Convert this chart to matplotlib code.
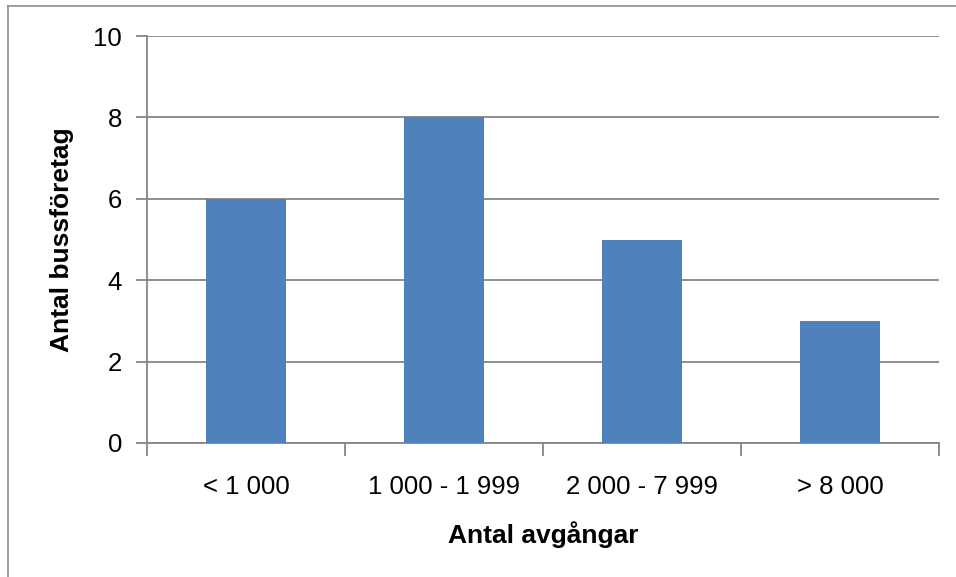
import matplotlib.pyplot as plt
from matplotlib.lines import Line2D

categories = ["< 1 000", "1 000 - 1 999", "2 000 - 7 999", "> 8 000"]
counts = [6, 8, 5, 3]
yticks = [0, 2, 4, 6, 8, 10]

plt.rcParams['font.family'] = ['Liberation Sans', 'DejaVu Sans']

fig = plt.figure(figsize=(9.56, 5.77), dpi=100)
ax = fig.add_axes([147/956, 1 - 443/577, (939-147)/956, (443-36)/577])

x = list(range(len(categories)))
ax.bar(x, counts, width=0.4, color='#4F81BD', zorder=3)
ax.set_xlim(-0.5, len(categories) - 0.5)
ax.set_ylim(0, 10)
ax.set_yticks(yticks)
ax.set_xticks(x)
ax.set_xticklabels(categories)
ax.set_xticks([i - 0.5 for i in range(len(categories) + 1)], minor=True)
ax.tick_params(axis='x', which='major', length=0, pad=23, labelsize=18.5)
ax.tick_params(axis='x', which='minor', length=9, color='#868686', width=1.3)
ax.tick_params(axis='y', length=8, color='#868686', width=1.3, labelsize=18.5, pad=10)

ax.grid(axis='y', color='#868686', linewidth=1.3, zorder=0)
for s in ['top', 'right']:
    ax.spines[s].set_visible(False)
for s in ['left', 'bottom']:
    ax.spines[s].set_color('#868686')
    ax.spines[s].set_linewidth(1.3)

ax.set_xlabel("Antal avgångar", fontsize=19, fontweight='bold', labelpad=16)
ax.set_ylabel("Antal bussföretag", fontsize=19, fontweight='bold', labelpad=14)

# outer chart border (left and top visible)
fig.add_artist(Line2D([8/956, 8/956], [0, 1 - 6/577], transform=fig.transFigure, color='#8c8c8c', lw=1.2))
fig.add_artist(Line2D([8/956, 1], [1 - 6/577, 1 - 6/577], transform=fig.transFigure, color='#8c8c8c', lw=1.2))

fig.savefig('out.png', dpi=100)
